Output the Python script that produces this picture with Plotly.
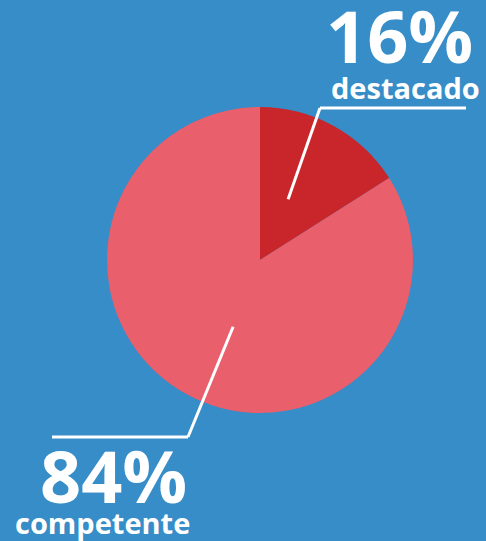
import math
import plotly.graph_objects as go

labels = ["destacado", "competente"]
values = [16, 84]
pct_text = ["16%", "84%"]
colors = ["#C8262B", "#E95F6B"]
bg = "#368DC8"

W, H = 486, 541
cx, cy, R = 260, 260, 153

def px(x):
    return x / W

def py(y):
    return 1 - y / H

fig = go.Figure(go.Pie(
    labels=labels, values=values, sort=False, direction="clockwise", rotation=0,
    marker=dict(colors=colors, line=dict(width=0)), textinfo="none", hoverinfo="label+percent",
    domain=dict(x=[px(cx - R), px(cx + R)], y=[py(cy + R), py(cy - R)]),
    showlegend=False,
))

total = sum(values)
mids = []
acc = 0
for v in values:
    mids.append((acc + v / 2) / total * 2 * math.pi)
    acc += v

def pt(angle, r):
    return cx + r * math.sin(angle), cy - r * math.cos(angle)

s1 = pt(mids[0] - 0.07, 67)
s2 = pt(mids[1] - 0.12, 72)
lines = [
    [s1, (320, 108), (466, 108)],
    [s2, (188, 437), (52, 437)],
]
shapes = []
for ln in lines:
    for (x0, y0), (x1, y1) in zip(ln[:-1], ln[1:]):
        shapes.append(dict(type="line", xref="paper", yref="paper",
                           x0=px(x0), y0=py(y0), x1=px(x1), y1=py(y1),
                           line=dict(color="white", width=3)))

font_big = dict(family="Open Sans", size=72, color="white")
font_small = dict(family="Open Sans", size=29, color="white")
annotations = [
    dict(text="<b>%s</b>" % pct_text[0], x=px(399), y=py(35), font=font_big),
    dict(text="<b>%s</b>" % labels[0], x=px(405), y=py(87), font=font_small),
    dict(text="<b>%s</b>" % pct_text[1], x=px(113), y=py(475), font=font_big),
    dict(text="<b>%s</b>" % labels[1], x=px(102), y=py(522), font=font_small),
]
for a in annotations:
    a.update(xref="paper", yref="paper", showarrow=False, xanchor="center", yanchor="middle")

fig.update_layout(
    width=W, height=H, margin=dict(l=0, r=0, t=0, b=0),
    paper_bgcolor=bg, plot_bgcolor=bg,
    shapes=shapes, annotations=annotations,
)
fig.write_html("out.html", config={"displayModeBar": False},
               post_script="document.body.style.margin='0';")
